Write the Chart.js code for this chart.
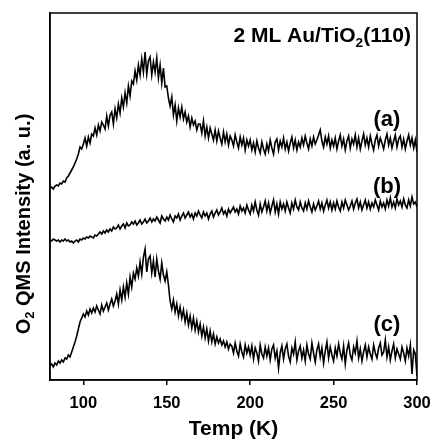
<!DOCTYPE html>
<html>
<head>
<meta charset="utf-8">
<script src="https://cdn.jsdelivr.net/npm/chart.js@4"></script>
<style>
  html, body { margin: 0; padding: 0; background: #fff; overflow: hidden; }
  #wrap { width: 432px; height: 445px; }
  canvas { display: block; }
</style>
</head>
<body>
<div id="wrap"><canvas id="tpd"></canvas></div>
<script>
// Temperature grid (K), one reading per kelvin
const tStart = 80;
const tEnd = 300;
const tickTemps = [100, 150, 200, 250, 300];

// O2 QMS signal, arbitrary units (offset traces as in the figure)
const traceA = [
  192, 193, 191, 194, 195, 194, 197, 196, 199, 198,
  202, 204, 207, 210, 213, 217, 221, 226, 233, 231,
  236, 242, 234, 243, 237, 246, 244, 252, 245, 255,
  249, 258, 255, 251, 264, 254, 265, 268, 256, 271,
  262, 276, 267, 282, 273, 287, 277, 294, 284, 299,
  296, 309, 300, 315, 305, 321, 308, 328, 306, 319,
  323, 305, 318, 308, 322, 302, 315, 297, 312, 293,
  294, 282, 274, 283, 265, 275, 259, 272, 263, 273,
  261, 268, 258, 264, 253, 262, 255, 259, 250, 256,
  256, 247, 259, 244, 253, 242, 252, 246, 240, 250,
  239, 249, 242, 236, 248, 238, 246, 235, 244, 240,
  234, 245, 238, 232, 243, 235, 242, 230, 240, 234,
  240, 230, 237, 228, 239, 232, 227, 238, 231, 226,
  236, 229, 240, 232, 226, 238, 241, 230, 239, 233,
  242, 231, 238, 229, 237, 243, 232, 240, 230, 238,
  233, 242, 235, 244, 237, 231, 241, 234, 243, 236,
  240, 245, 250, 239, 233, 243, 236, 244, 232, 240,
  234, 242, 231, 239, 245, 234, 241, 230, 239, 244,
  232, 241, 236, 245, 233, 242, 231, 239, 246, 235,
  242, 233, 244, 236, 230, 240, 245, 234, 242, 237,
  231, 240, 246, 235, 242, 232, 239, 245, 233, 241,
  244, 233, 241, 231, 239, 245, 235, 242, 232, 240,
  228
];

const traceB = [
  140, 139, 141, 140, 139, 140, 138, 140, 139, 141,
  139, 140, 138, 139, 137, 139, 140, 138, 141, 140,
  142, 141, 143, 142, 144, 143, 142, 145, 144, 146,
  148, 146, 149, 147, 150, 148, 151, 149, 153, 151,
  152, 155, 151, 154, 156, 152, 157, 154, 155, 158,
  156, 159, 155, 157, 160, 156, 158, 161, 157, 159,
  162, 158, 161, 159, 163, 160, 157, 164, 161, 159,
  163, 160, 165, 161, 158, 164, 162, 166, 160, 164,
  167, 162, 165, 168, 163, 166, 161, 167, 164, 169,
  165, 162, 168, 164, 167, 161, 166, 169, 163, 167,
  170, 165, 168, 172, 166, 169, 164, 171, 167, 170,
  173, 168, 171, 166, 174, 169, 172, 167, 175, 170,
  166, 175, 169, 178, 170, 165, 176, 168, 173, 179,
  169, 177, 167, 174, 180, 168, 176, 166, 178, 171,
  176, 169, 178, 172, 167, 177, 171, 180, 173, 170,
  178, 172, 169, 177, 171, 179, 173, 168, 176, 170,
  174, 179, 171, 177, 169, 175, 180, 172, 178, 170,
  177, 171, 179, 173, 169, 178, 172, 180, 175, 170,
  174, 179, 171, 177, 181, 172, 178, 170, 175, 180,
  172, 178, 171, 177, 173, 180, 175, 170, 179, 173,
  177, 171, 180, 174, 182, 173, 178, 172, 181, 175,
  179, 173, 181, 175, 172, 180, 174, 183, 176, 178,
  173
];

const traceC = [
  14, 16, 13, 17, 15, 19, 17, 20, 18, 22,
  21, 25, 23, 28, 33, 38, 44, 51, 58, 62,
  66, 63, 69, 65, 71, 67, 72, 68, 74, 70,
  66, 75, 69, 73, 77, 70, 76, 81, 74, 79,
  86, 76, 90, 80, 93, 83, 97, 86, 103, 93,
  107, 101, 112, 104, 118, 106, 123, 131, 108, 121,
  124, 107, 119, 103, 121, 109, 101, 117, 105, 99,
  108, 95, 79, 71, 80, 68, 76, 64, 73, 62,
  70, 58, 67, 55, 64, 52, 62, 50, 59, 48,
  56, 44, 53, 42, 51, 39, 49, 38, 46, 36,
  43, 37, 41, 35, 39, 33, 38, 31, 36, 34,
  27, 37, 29, 24, 36, 28, 23, 35, 27, 33,
  25, 34, 21, 32, 27, 19, 35, 26, 22, 33,
  24, 32, 20, 31, 35, 22, 29, 12, 27, 34,
  21, 31, 36, 24, 18, 32, 26, 38, 20, 29,
  34, 22, 30, 19, 35, 26, 21, 37, 27, 18,
  30, 36, 23, 32, 17, 29, 38, 22, 33, 25,
  19, 32, 24, 36, 27, 21, 34, 16, 30, 37,
  25, 20, 33, 27, 39, 22, 31, 19, 28, 35,
  23, 33, 26, 21, 35, 27, 22, 32, 37, 25,
  28, 40, 23, 33, 20, 29, 36, 22, 31, 26,
  21, 33, 27, 19, 32, 24, 35, 6, 30, 26,
  4
];

const traceLabels = [
  { text: '(a)', t: 282, v: 260 },
  { text: '(b)', t: 282, v: 193 },
  { text: '(c)', t: 282, v: 55 }
];

const temps = [];
for (let t = tStart; t <= tEnd; t++) temps.push(t);

function toPoints(vals) {
  return vals.map((v, i) => ({ x: temps[i], y: v }));
}

const FONT = '"Liberation Sans", Arial, sans-serif';

// draw a run of text pieces, some of them subscripts
function drawRich(ctx, parts, size, x, y, align) {
  const measure = parts.map(p => {
    ctx.font = 'bold ' + (p.sub ? size * 0.65 : size) + 'px ' + FONT;
    return ctx.measureText(p.s).width;
  });
  const total = measure.reduce((a, b) => a + b, 0);
  let cx = align === 'right' ? x - total : (align === 'center' ? x - total / 2 : x);
  parts.forEach((p, i) => {
    ctx.font = 'bold ' + (p.sub ? size * 0.65 : size) + 'px ' + FONT;
    ctx.fillText(p.s, cx, p.sub ? y + size * 0.22 : y);
    cx += measure[i];
  });
}

const decor = {
  id: 'decor',
  afterDatasetsDraw(chart) {
    const { ctx, chartArea: a, scales } = chart;
    ctx.save();
    ctx.strokeStyle = '#000';
    ctx.lineWidth = 1.5;
    ctx.strokeRect(a.left, a.top, a.right - a.left, a.bottom - a.top);

    ctx.fillStyle = '#000';
    ctx.textBaseline = 'alphabetic';
    ctx.textAlign = 'left';
    drawRich(ctx, [{ s: '2 ML Au/TiO' }, { s: '2', sub: true }, { s: '(110)' }], 21, 411, 42, 'right');

    ctx.textAlign = 'center';
    ctx.textBaseline = 'middle';
    ctx.font = 'bold 22px ' + FONT;
    traceLabels.forEach(l => {
      ctx.fillText(l.text, scales.x.getPixelForValue(l.t), scales.y.getPixelForValue(l.v));
    });

    // y axis title, rotated
    ctx.translate(30, 224);
    ctx.rotate(-Math.PI / 2);
    ctx.textAlign = 'left';
    ctx.textBaseline = 'alphabetic';
    drawRich(ctx, [{ s: 'O' }, { s: '2', sub: true }, { s: ' QMS Intensity (a. u.)' }], 20, 0, 0, 'center');
    ctx.restore();
  }
};

const lineStyle = { borderColor: '#000', borderWidth: 1.6, pointRadius: 0, tension: 0, fill: false };

new Chart(document.getElementById('tpd'), {
  type: 'line',
  data: {
    datasets: [
      Object.assign({ label: 'a', data: toPoints(traceA) }, lineStyle),
      Object.assign({ label: 'b', data: toPoints(traceB) }, lineStyle),
      Object.assign({ label: 'c', data: toPoints(traceC) }, lineStyle)
    ]
  },
  options: {
    responsive: true,
    maintainAspectRatio: false,
    animation: false,
    layout: { padding: { top: 13, right: 15, left: 0, bottom: 0 } },
    plugins: { legend: { display: false }, tooltip: { enabled: false } },
    scales: {
      x: {
        type: 'linear',
        min: tStart,
        max: tEnd,
        afterBuildTicks: s => { s.ticks = tickTemps.map(v => ({ value: v })); },
        afterFit: s => { s.height = 65; s.paddingLeft = 0; s.paddingRight = 0; },
        grid: { drawOnChartArea: false, drawTicks: true, tickLength: 5, color: '#000', lineWidth: 1.5 },
        border: { display: true, color: '#000', width: 1.5 },
        ticks: { color: '#000', font: { family: FONT, size: 16.5, weight: 'bold' }, padding: 9, maxRotation: 0 },
        title: { display: true, text: 'Temp (K)', color: '#000', font: { family: FONT, size: 21, weight: 'bold' }, padding: { top: 0, bottom: 3 } }
      },
      y: {
        min: 0,
        max: 367,
        afterFit: s => { s.width = 50; s.paddingTop = 0; s.paddingBottom = 0; },
        grid: { display: false },
        border: { display: true, color: '#000', width: 1.5 },
        ticks: { display: false }
      }
    }
  },
  plugins: [decor]
});
</script>
</body>
</html>
